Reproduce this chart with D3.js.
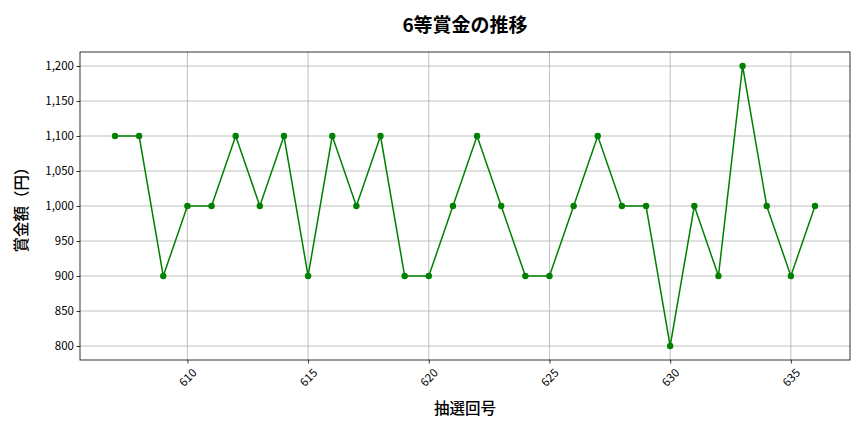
<!DOCTYPE html>
<html>
<head>
<meta charset="utf-8">
<script src="https://cdn.jsdelivr.net/npm/d3@7"></script>
<style>
  body { margin: 0; background: #fff; }
  svg { font-family: "Noto Sans CJK JP", "Noto Sans", sans-serif; }
</style>
</head>
<body>
<svg id="chart"></svg>
<script>
// draw numbers and 6th prize amounts (yen)
const draws = [607, 608, 609, 610, 611, 612, 613, 614, 615, 616, 617, 618, 619, 620, 621,
  622, 623, 624, 625, 626, 627, 628, 629, 630, 631, 632, 633, 634, 635, 636];
const prizes = [1100, 1100, 900, 1000, 1000, 1100, 1000, 1100, 900, 1100, 1000, 1100, 900, 900, 1000,
  1100, 1000, 900, 900, 1000, 1100, 1000, 1000, 800, 1000, 900, 1200, 1000, 900, 1000];
const xTicks = [610, 615, 620, 625, 630, 635];
const yTicks = [800, 850, 900, 950, 1000, 1050, 1100, 1150, 1200];

const width = 864, height = 432;
const margin = { top: 52, right: 14, bottom: 72, left: 80 };
const w = width - margin.left - margin.right;
const h = height - margin.top - margin.bottom;
const font = '"Noto Sans CJK JP", "Noto Sans", sans-serif';

const svg = d3.select("#chart").attr("width", width).attr("height", height);
const g = svg.append("g").attr("transform", `translate(${margin.left},${margin.top})`);

// matplotlib-like 5% padding
const xPad = (d3.max(draws) - d3.min(draws)) * 0.05;
const yPad = (d3.max(prizes) - d3.min(prizes)) * 0.05;
const x = d3.scaleLinear().domain([d3.min(draws) - xPad, d3.max(draws) + xPad]).range([0, w]);
const y = d3.scaleLinear().domain([d3.min(prizes) - yPad, d3.max(prizes) + yPad]).range([h, 0]);

// grid
g.append("g").selectAll("line").data(xTicks).join("line")
  .attr("x1", d => x(d)).attr("x2", d => x(d)).attr("y1", 0).attr("y2", h)
  .attr("stroke", "#b0b0b0").attr("stroke-width", 0.8);
g.append("g").selectAll("line").data(yTicks).join("line")
  .attr("y1", d => y(d)).attr("y2", d => y(d)).attr("x1", 0).attr("x2", w)
  .attr("stroke", "#b0b0b0").attr("stroke-width", 0.8);

// axes
const xAxis = g.append("g").attr("transform", `translate(0,${h})`)
  .call(d3.axisBottom(x).tickValues(xTicks).tickSize(3.5).tickSizeOuter(0).tickFormat(d3.format("d")));
xAxis.attr("font-family", font).attr("font-size", 11.5);
xAxis.selectAll("text")
  .attr("fill", "#000")
  .attr("text-anchor", "end")
  .attr("dx", 0).attr("dy", 0)
  .attr("transform", "translate(5,9) rotate(-45)");

const yAxis = g.append("g")
  .call(d3.axisLeft(y).tickValues(yTicks).tickSize(3.5).tickSizeOuter(0).tickFormat(d3.format(",")));
yAxis.attr("font-family", font).attr("font-size", 11.5);
yAxis.selectAll("text").attr("fill", "#000").attr("x", -6);

svg.selectAll(".domain").remove();
svg.selectAll(".tick line").attr("stroke", "#000").attr("stroke-width", 0.8);

// frame
g.append("rect").attr("width", w).attr("height", h)
  .attr("fill", "none").attr("stroke", "#000").attr("stroke-width", 0.8);

// line and markers
const pts = draws.map((d, i) => [d, prizes[i]]);
g.append("path").datum(pts)
  .attr("fill", "none").attr("stroke", "green").attr("stroke-width", 1.5)
  .attr("d", d3.line().x(d => x(d[0])).y(d => y(d[1])));
g.append("g").selectAll("circle").data(pts).join("circle")
  .attr("cx", d => x(d[0])).attr("cy", d => y(d[1])).attr("r", 3.2)
  .attr("fill", "green");

// titles
svg.append("text").attr("x", margin.left + w / 2).attr("y", 32)
  .attr("text-anchor", "middle").attr("font-size", 19).attr("font-weight", "bold")
  .text("6等賞金の推移");
svg.append("text").attr("x", margin.left + w / 2).attr("y", 414)
  .attr("text-anchor", "middle").attr("font-size", 15.5).attr("font-weight", 500)
  .text("抽選回号");
svg.append("text")
  .attr("transform", `translate(27,${margin.top + h / 2}) rotate(-90)`)
  .attr("text-anchor", "middle").attr("font-size", 15.5).attr("font-weight", 500)
  .text("賞金額（円）");
</script>
</body>
</html>
